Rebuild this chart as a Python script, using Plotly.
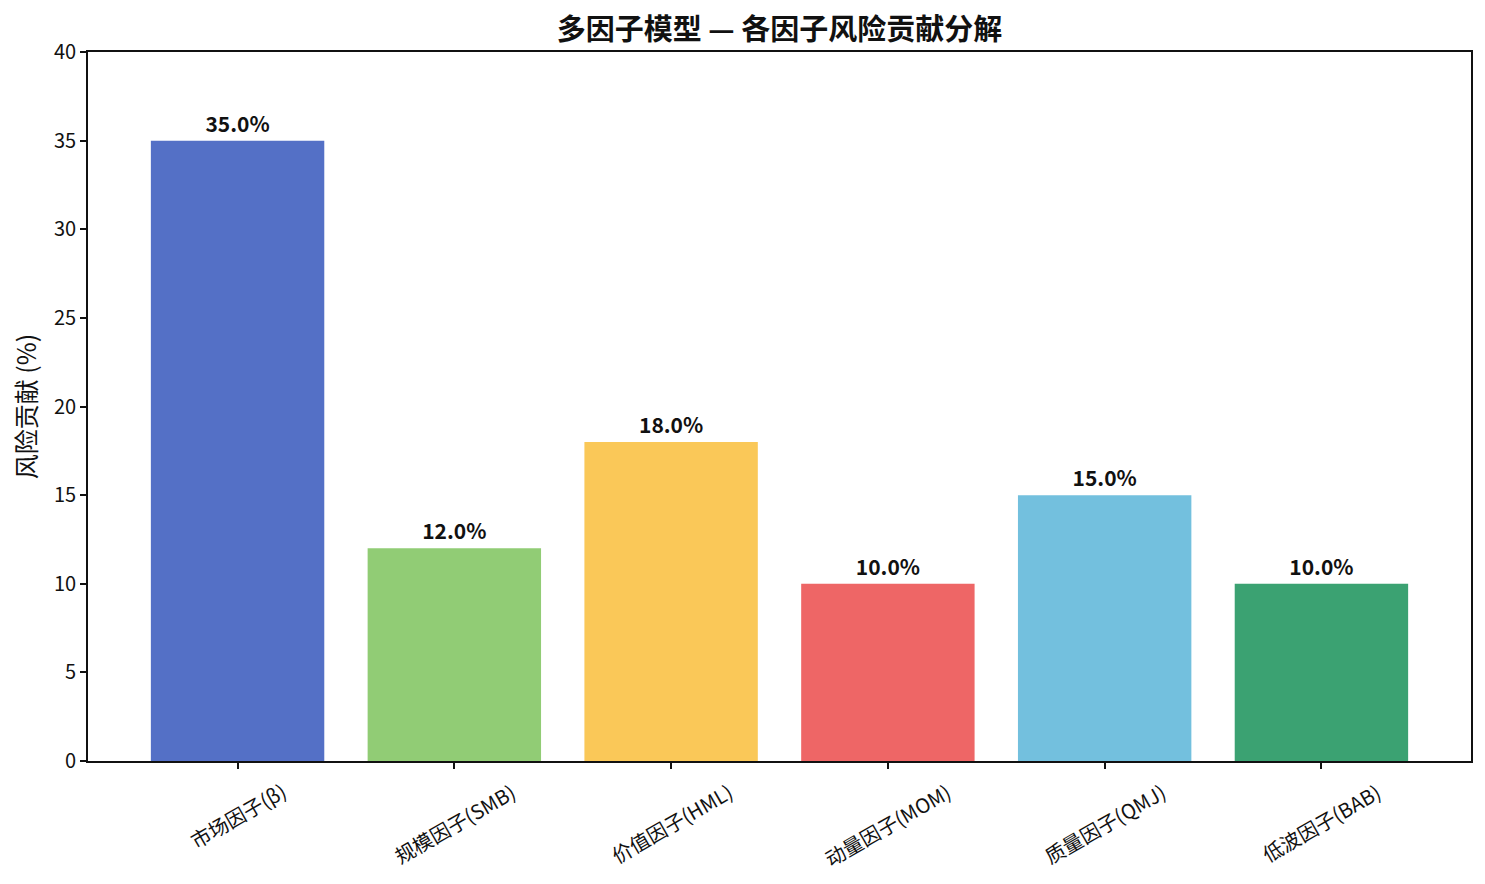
import plotly.graph_objects as go

categories = ["市场因子(β)", "规模因子(SMB)", "价值因子(HML)", "动量因子(MOM)", "质量因子(QMJ)", "低波因子(BAB)"]
values = [35.0, 12.0, 18.0, 10.0, 15.0, 10.0]
colors = ["#5470c6", "#91cc75", "#fac858", "#ee6666", "#73c0de", "#3ba272"]
y_ticks = [0, 5, 10, 15, 20, 25, 30, 35, 40]

FONT = "Noto Sans CJK SC"

fig = go.Figure()
fig.add_trace(go.Bar(
    x=list(range(len(categories))),
    y=values,
    marker=dict(color=colors, line=dict(width=0)),
    width=0.8,
    text=[f"{v:.1f}%" for v in values],
    textposition="outside",
    textfont=dict(family=FONT, size=21, color="#111111", weight="bold"),
    cliponaxis=False,
    hoverinfo="skip",
))

for i, c in enumerate(categories):
    fig.add_annotation(
        x=i, y=0, xref="x", yref="paper",
        text=c, showarrow=False, textangle=-30,
        xanchor="center", yanchor="top", yshift=-13,
        font=dict(family=FONT, size=20, color="#111111"),
    )

axis_common = dict(
    showline=True, linecolor="#111111", linewidth=1.6, mirror=True,
    ticks="outside", ticklen=6, tickwidth=1.6, tickcolor="#111111",
    showgrid=False, zeroline=False,
)

fig.update_layout(
    width=1485, height=884,
    margin=dict(l=88, r=14, t=52, b=123),
    paper_bgcolor="white", plot_bgcolor="white",
    showlegend=False,
    font=dict(family=FONT, color="#111111"),
    title=dict(
        text="<b>多因子模型 — 各因子风险贡献分解</b>",
        x=0.5, xref="paper", xanchor="center",
        y=1 - 30 / 884, yref="container", yanchor="middle",
        font=dict(family=FONT, size=29, color="#111111"),
    ),
    xaxis=dict(
        range=[-0.69, len(categories) - 1 + 0.69],
        tickmode="array", tickvals=list(range(len(categories))),
        showticklabels=False,
        **axis_common,
    ),
    yaxis=dict(
        range=[0, 40],
        tickmode="array", tickvals=y_ticks, ticktext=[str(t) for t in y_ticks],
        tickfont=dict(family=FONT, size=20, color="#111111"),
        title=dict(text="风险贡献 (%)", font=dict(family=FONT, size=25, color="#111111"), standoff=10),
        **axis_common,
    ),
)

fig.write_html("out.html")
